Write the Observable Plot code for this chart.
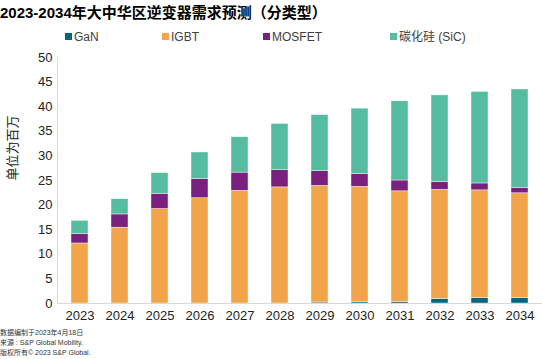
<!DOCTYPE html>
<html>
<head>
<meta charset="utf-8">
<script src="https://cdn.jsdelivr.net/npm/d3@7"></script>
<script src="https://cdn.jsdelivr.net/npm/@observablehq/plot@0.6"></script>
<style>
  body { margin: 0; width: 542px; height: 359px; position: relative; overflow: hidden; background: #fff;
         font-family: "Liberation Sans", Arial, "Noto Sans CJK SC", sans-serif; }
  #title { position: absolute; left: 0; top: 1px; font-size: 15px; font-weight: bold; color: #000; white-space: nowrap; }
  #legend { position: absolute; left: 0; top: 29px; width: 542px; height: 16px; font-size: 12px; color: #404040; }
  .item { position: absolute; top: 0; white-space: nowrap; line-height: 16px; }
  .sw { display: inline-block; width: 7px; height: 7px; margin-right: 2px; vertical-align: 1px; }
  #chart { position: absolute; left: 0; top: 48px; }
  #foot { position: absolute; left: 0; top: 328px; font-size: 7px; line-height: 10px; color: #333; white-space: nowrap; }
</style>
</head>
<body>
<div id="title">2023-2034年大中华区逆变器需求预测（分类型）</div>
<div id="legend"></div>
<div id="chart"></div>
<div id="foot"></div>
<script>
const years = ["2023","2024","2025","2026","2027","2028","2029","2030","2031","2032","2033","2034"];
const seriesNames = ["GaN", "IGBT", "MOSFET", "碳化硅 (SiC)"];
const seriesColors = ["#00667e", "#f0a54b", "#7a2180", "#55bc9f"];
const gan    = [0, 0, 0, 0, 0, 0, 0.2, 0.25, 0.3, 0.9, 1.1, 1.1];
const igbt   = [12.2, 15.4, 19.2, 21.4, 22.9, 23.6, 23.7, 23.45, 22.5, 22.2, 21.9, 21.3];
const mosfet = [1.9, 2.7, 3.1, 3.9, 3.7, 3.5, 3.0, 2.6, 2.2, 1.6, 1.4, 1.1];
const sic    = [2.7, 3.1, 4.2, 5.4, 7.2, 9.4, 11.4, 13.3, 16.1, 17.6, 18.6, 20.0];
const yTicks = [0, 5, 10, 15, 20, 25, 30, 35, 40, 45, 50];
const yLabel = "单位为百万";
const footLines = ["数据编制于2023年4月18日", "来源 : S&P Global Mobility.", "版权所有© 2023 S&P Global."];
const legendX = [65, 162, 263, 390];

const seriesVals = [gan, igbt, mosfet, sic];
const rows = [];
seriesNames.forEach((s, si) => years.forEach((y, i) => rows.push({year: y, series: s, value: seriesVals[si][i]})));

const fontFam = '"Liberation Sans", Arial, "Noto Sans CJK SC", sans-serif';
const plot = Plot.plot({
  width: 542, height: 280,
  marginLeft: 57, marginRight: 0, marginTop: 9, marginBottom: 25,
  style: { fontFamily: fontFam, fontSize: "13px", color: "#222", background: "#fff" },
  x: { domain: years, paddingInner: 0.58, paddingOuter: 0.29, label: null },
  y: { domain: [0, 50], ticks: yTicks, label: null },
  color: { domain: seriesNames, range: seriesColors },
  marks: [
    Plot.barY(rows, Plot.stackY({ order: seriesNames }, { x: "year", y: "value", fill: "series", stroke: "#fff", strokeWidth: 0.6, strokeOpacity: 0.7 })),
    Plot.axisY({ ticks: yTicks, tickSize: 0, tickPadding: 5, label: null }),
    Plot.axisX({ tickSize: 0, tickPadding: 7, label: null }),
    Plot.frame({ anchor: "left", stroke: "#d9d9d9" }),
    Plot.ruleY([0], { stroke: "#d9d9d9" }),
    Plot.text([yLabel], { frameAnchor: "left", dx: -45, rotate: -90, fontSize: 13, fill: "#222" })
  ]
});
document.getElementById("chart").appendChild(plot);

const lg = document.getElementById("legend");
seriesNames.forEach((s, i) => {
  const d = document.createElement("div");
  d.className = "item";
  d.style.left = legendX[i] + "px";
  d.innerHTML = `<span class="sw" style="background:${seriesColors[i]}"></span>${s}`;
  lg.appendChild(d);
});
document.getElementById("foot").innerHTML = footLines.join("<br>");
</script>
</body>
</html>
